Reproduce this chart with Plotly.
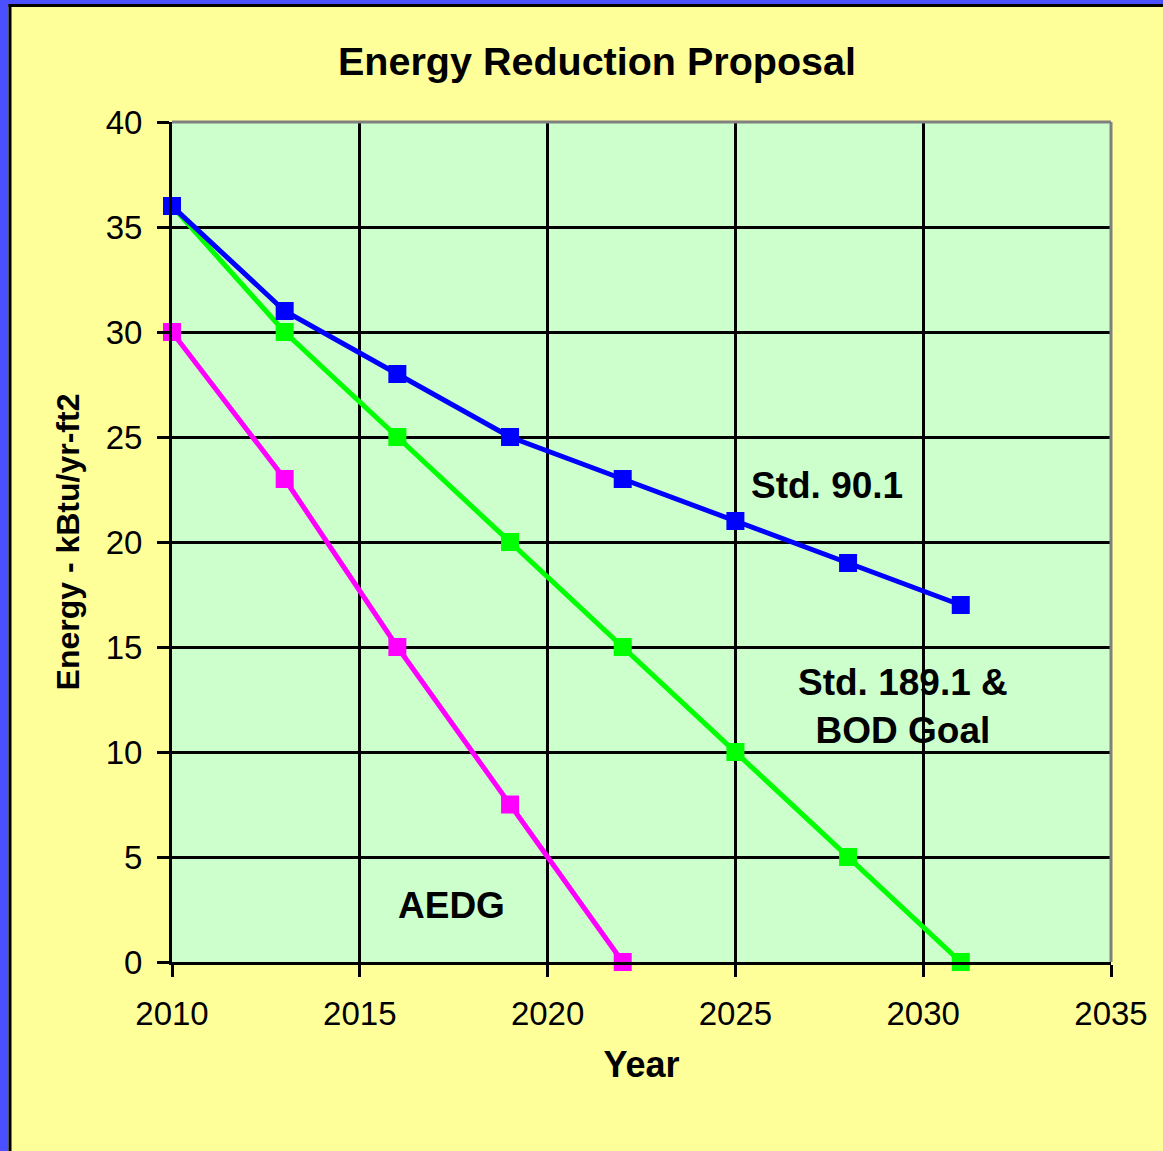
import plotly.graph_objects as go

# ---- data ----
years_std901 = [2010, 2013, 2016, 2019, 2022, 2025, 2028, 2031]
energy_std901 = [36, 31, 28, 25, 23, 21, 19, 17]

years_std1891 = [2010, 2013, 2016, 2019, 2022, 2025, 2028, 2031]
energy_std1891 = [36, 30, 25, 20, 15, 10, 5, 0]

years_aedg = [2010, 2013, 2016, 2019, 2022]
energy_aedg = [30, 23, 15, 7.5, 0]

x_ticks = [2010, 2015, 2020, 2025, 2030, 2035]
y_ticks = [0, 5, 10, 15, 20, 25, 30, 35, 40]

W, H = 1163, 1151
ML, MR, MT, MB = 172, 52, 122, 189
PW, PH = W - ML - MR, H - MT - MB

def px_x(px):
    return (px - ML) / PW

def px_y(py):
    return (H - MB - py) / PH

FONT = "Liberation Sans, Arial, sans-serif"

fig = go.Figure()

def add_series(x, y, color, name):
    fig.add_trace(go.Scatter(
        x=x, y=y, mode="lines+markers", name=name,
        line=dict(color=color, width=5),
        marker=dict(symbol="square", size=18, color=color),
        cliponaxis=False,
    ))

add_series(years_aedg, energy_aedg, "#FF00FF", "AEDG")
add_series(years_std1891, energy_std1891, "#00FF00", "Std. 189.1 & BOD Goal")
add_series(years_std901, energy_std901, "#0000FF", "Std. 90.1")

shapes = [
    # gray plot-area border top and right
    dict(type="line", xref="paper", yref="paper", x0=0, x1=1, y0=1, y1=1,
         line=dict(color="#808080", width=3), layer="above"),
    dict(type="line", xref="paper", yref="paper", x0=1, x1=1, y0=0, y1=1,
         line=dict(color="#808080", width=3), layer="above"),
    # blue frame on left and top
    dict(type="rect", xref="paper", yref="paper", x0=px_x(0), x1=px_x(8.5),
         y0=px_y(H), y1=px_y(0), fillcolor="#4A50FF", line=dict(width=0)),
    dict(type="rect", xref="paper", yref="paper", x0=px_x(0), x1=px_x(W),
         y0=px_y(4), y1=px_y(0), fillcolor="#4A50FF", line=dict(width=0)),
    dict(type="rect", xref="paper", yref="paper", x0=px_x(8.5), x1=px_x(11.5),
         y0=px_y(H), y1=px_y(4), fillcolor="#000000", line=dict(width=0)),
    dict(type="rect", xref="paper", yref="paper", x0=px_x(8.5), x1=px_x(W),
         y0=px_y(7), y1=px_y(4), fillcolor="#000000", line=dict(width=0)),
]

annot_font = dict(family=FONT, size=37, color="black")
annotations = [
    dict(x=px_x(827), y=px_y(485), xref="paper", yref="paper", text="<b>Std. 90.1</b>",
         xanchor="center", yanchor="middle", showarrow=False, font=annot_font),
    dict(x=px_x(903), y=px_y(706), xref="paper", yref="paper",
         text="<b>Std. 189.1 &amp;<br>BOD Goal</b>",
         xanchor="center", yanchor="middle", showarrow=False, font=annot_font),
    dict(x=px_x(451), y=px_y(905), xref="paper", yref="paper", text="<b>AEDG</b>",
         xanchor="center", yanchor="middle", showarrow=False, font=annot_font),
]

fig.update_layout(
    width=W, height=H,
    margin=dict(l=ML, r=MR, t=MT, b=MB),
    paper_bgcolor="#FFFF99",
    plot_bgcolor="#CCFFCC",
    showlegend=False,
    title=dict(text="<b>Energy Reduction Proposal</b>", x=px_x(597), xanchor="center",
               xref="paper", y=1 - 61 / H, yanchor="middle",
               font=dict(family=FONT, size=39.5, color="black")),
    shapes=shapes,
    annotations=annotations,
    xaxis=dict(
        range=[2010, 2035], tickvals=x_ticks, ticktext=[str(v) for v in x_ticks],
        showgrid=True, gridcolor="black", gridwidth=3,
        showline=True, linecolor="black", linewidth=3,
        ticks="outside", ticklen=12, tickwidth=3, tickcolor="black",
        zeroline=False,
        tickfont=dict(family=FONT, size=33, color="black"),
        ticklabelstandoff=8,
        title=dict(text="<b>Year</b>", font=dict(family=FONT, size=36, color="black"),
                   standoff=22),
    ),
    yaxis=dict(
        range=[0, 40], tickvals=y_ticks, ticktext=[str(v) for v in y_ticks],
        showgrid=True, gridcolor="black", gridwidth=3,
        showline=True, linecolor="black", linewidth=3,
        ticks="outside", ticklen=12, tickwidth=3, tickcolor="black",
        zeroline=False,
        tickfont=dict(family=FONT, size=33, color="black"),
        ticklabelstandoff=8,
        title=dict(text="<b>Energy - kBtu/yr-ft2</b>",
                   font=dict(family=FONT, size=32, color="black"), standoff=17),
    ),
)

fig.write_html("out.html", post_script="document.body.style.margin='0';",
               config={"displayModeBar": False})
